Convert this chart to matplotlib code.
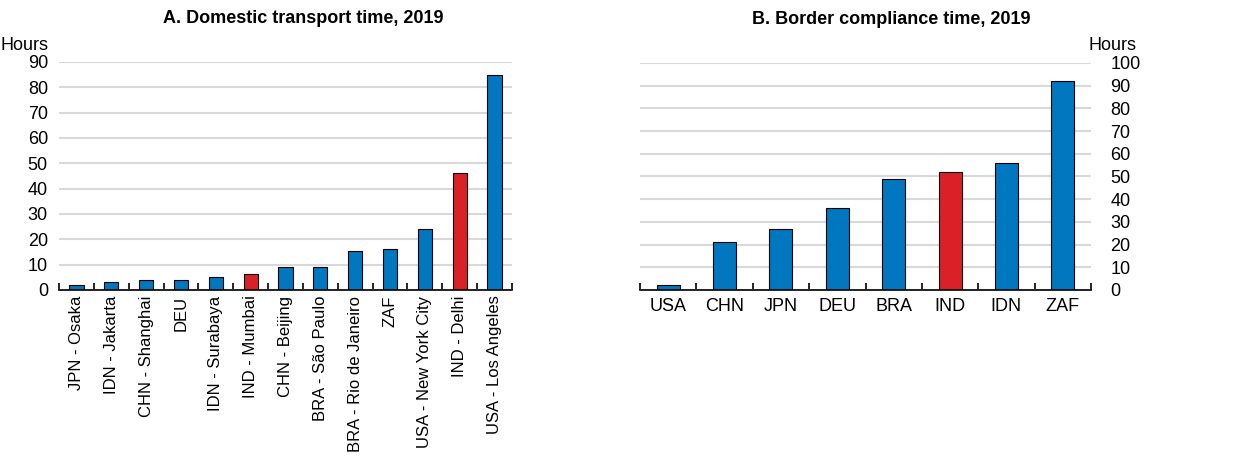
import matplotlib.pyplot as plt
from matplotlib import font_manager
import numpy as np

names = {f.name for f in font_manager.fontManager.ttflist}
fam = 'Liberation Sans Narrow' if 'Liberation Sans Narrow' in names else 'Liberation Sans'
plt.rcParams['font.family'] = [fam, 'DejaVu Sans']
plt.rcParams['font.size'] = 13

# Panel A: domestic transport time (hours)
cities = ['JPN - Osaka', 'IDN - Jakarta', 'CHN - Shanghai', 'DEU', 'IDN - Surabaya',
          'IND - Mumbai', 'CHN - Beijing', 'BRA - São Paulo', 'BRA - Rio de Janeiro',
          'ZAF', 'USA - New York City', 'IND - Delhi', 'USA - Los Angeles']
transport = [2, 3, 4, 4, 5, 6.5, 9, 9, 15.5, 16, 24, 46, 85]

# Panel B: border compliance time (hours)
countries = ['USA', 'CHN', 'JPN', 'DEU', 'BRA', 'IND', 'IDN', 'ZAF']
border = [2, 21, 27, 36, 49, 52, 56, 92]

BLUE = '#0077BF'
RED = '#DA2128'

def colours(labels):
    return [RED if l.startswith('IND') else BLUE for l in labels]

def style(ax, n, ymax, step, ypad):
    ax.set_xlim(-0.5, n - 0.5)
    ax.set_ylim(0, ymax)
    ax.set_yticks(np.arange(0, ymax + 1, step))
    ax.yaxis.grid(True, color='#d9d9d9', lw=1.5)
    ax.set_axisbelow(True)
    for s in ['top', 'left', 'right']:
        ax.spines[s].set_visible(False)
    ax.spines['bottom'].set_linewidth(1.2)
    ax.set_xticks(np.arange(-0.5, n, 1), minor=True)
    ax.tick_params(axis='x', which='minor', direction='in', length=5, width=1.2)
    ax.tick_params(axis='x', which='major', length=0, pad=6)
    ax.tick_params(axis='y', length=0, pad=ypad)

fig = plt.figure(figsize=(12.33, 4.58), dpi=100)
ax1 = fig.add_axes([59 / 1233, 168 / 458, 453 / 1233, 228 / 458])
ax2 = fig.add_axes([640 / 1233, 168 / 458, 451 / 1233, 227 / 458])

x1 = np.arange(len(cities))
ax1.bar(x1, transport, width=0.41, color=colours(cities), edgecolor='black', linewidth=0.8)
style(ax1, len(cities), 90, 10, 8)
ax1.set_xticks(x1)
ax1.set_xticklabels(cities, rotation=90, fontsize=12)
ax1.tick_params(axis='x', which='major', pad=4)
ax1.set_title('A. Domestic transport time, 2019', fontweight='bold', fontsize=13,
              x=0.539, pad=28)
fig.text(48 / 1233, 1 - 45 / 458, 'Hours', ha='right', va='center')

x2 = np.arange(len(countries))
ax2.bar(x2, border, width=0.41, color=colours(countries), edgecolor='black', linewidth=0.8)
style(ax2, len(countries), 100, 10, 14)
ax2.set_xticks(x2)
ax2.set_xticklabels(countries)
ax2.yaxis.tick_right()
ax2.set_title('B. Border compliance time, 2019', fontweight='bold', fontsize=13,
              x=0.557, pad=28)
fig.text(1137 / 1233, 1 - 45 / 458, 'Hours', ha='right', va='center')

fig.savefig('out.png', dpi=100)
